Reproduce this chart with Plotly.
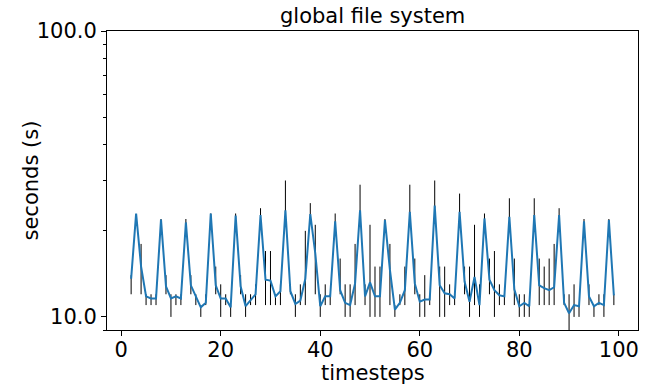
import numpy as np
import plotly.graph_objects as go

timesteps = list(range(2, 100))

mean_s = [
    13.6, 23.0, 15.0, 11.8, 11.6, 11.6, 21.9, 12.8, 11.6, 11.8,   # 2-11
    11.6, 21.4, 12.9, 11.8, 10.8, 11.2, 23.0, 12.9, 11.6, 11.6,   # 12-21
    10.8, 22.6, 12.8, 10.9, 11.4, 12.0, 22.7, 13.5, 13.4, 11.8,   # 22-31
    12.3, 23.6, 12.3, 11.1, 11.4, 13.6, 22.9, 16.7, 10.9, 11.8,   # 32-41
    11.8, 21.6, 12.4, 11.2, 11.0, 13.1, 23.6, 11.8, 13.2, 11.8,   # 42-51
    11.8, 21.8, 14.6, 10.6, 11.2, 12.4, 23.3, 13.1, 11.3, 11.5,   # 52-61
    11.5, 24.5, 12.9, 12.1, 12.0, 11.6, 23.3, 13.3, 11.3, 13.8,   # 62-71
    11.0, 22.1, 13.5, 12.4, 11.9, 11.8, 22.4, 12.5, 10.9, 11.2,   # 72-81
    10.9, 22.7, 12.9, 12.6, 12.4, 12.7, 22.7, 11.2, 10.3, 11.0,   # 82-91
    10.9, 21.6, 11.8, 10.9, 11.2, 11.0, 21.8, 11.9,               # 92-99
]

min_s = [
    12, 23, 12, 11, 11, 11, 21, 12, 10, 11,
    11, 21, 12, 11, 10, 11, 22, 12, 10, 11,
    10, 22, 12, 10, 11, 11, 22, 11, 11, 11,
    11, 23, 12, 10, 11, 11, 22, 12, 10, 11,
    11, 21, 12, 10, 10, 11, 23, 11, 10, 10,
    10, 21, 11, 10, 11, 11, 23, 12, 10, 10,
    11, 24, 10, 10, 11, 11, 23, 12, 10, 11,
    10, 22, 12, 10, 11, 11, 22, 11, 10, 10,
    10, 22, 11, 11, 11, 11, 22, 11, 9, 10,
    10, 21, 11, 10, 11, 10, 21, 11,
]

max_s = [
    14, 23, 18, 12, 12, 12, 22, 14, 12, 12,
    12, 22, 14, 12, 11, 12, 23, 15, 13, 12,
    11, 23, 14, 12, 12, 13, 24, 17, 17, 12,
    13, 30, 13, 12, 13, 20, 25, 21, 12, 13,
    12, 23, 16, 13, 13, 18, 29, 13, 21, 15,
    15, 22, 18, 11, 12, 15, 29, 16, 12, 14,
    12, 30, 15, 15, 13, 12, 27, 15, 15, 21,
    13, 23, 16, 17, 13, 12, 26, 16, 12, 12,
    11, 26, 16, 15, 16, 18, 24, 12, 12, 13,
    11, 22, 13, 11, 12, 12, 22, 12,
]

mean_a = np.array(mean_s)
err_plus = np.clip(np.array(max_s) - mean_a, 0, None)
err_minus = np.clip(mean_a - np.array(min_s), 0, None)

FONT = "DejaVu Sans"
FS = 21

fig = go.Figure()
fig.add_trace(go.Scatter(
    x=timesteps, y=mean_s, mode="lines",
    line=dict(color="#1f77b4", width=2),
    error_y=dict(type="data", symmetric=False, array=err_plus, arrayminus=err_minus,
                 color="black", thickness=1, width=0),
    showlegend=False,
))

fig.update_layout(
    width=650, height=386,
    margin=dict(l=107, r=12, t=31, b=56, autoexpand=False),
    paper_bgcolor="white", plot_bgcolor="white",
    font=dict(family=FONT, size=FS, color="black"),
    xaxis=dict(
        range=[-2.85, 103.85], tickvals=[0, 20, 40, 60, 80, 100],
        ticks="outside", ticklen=5, tickwidth=1, tickcolor="black",
        ticklabelstandoff=-4,
        showline=True, linecolor="black", linewidth=1, mirror=True,
        showgrid=False, zeroline=False, automargin=False,
        tickfont=dict(family=FONT, size=FS),
    ),
    yaxis=dict(
        type="log", range=[np.log10(9), 2],
        tickvals=[10, 100], ticktext=["10.0", "100.0"],
        ticks="outside", ticklen=5, tickwidth=1, tickcolor="black",
        minor=dict(tickvals=[9, 20, 30, 40, 50, 60, 70, 80, 90], ticks="outside",
                   ticklen=3, tickwidth=1, tickcolor="black", showgrid=False),
        showline=True, linecolor="black", linewidth=1, mirror=True,
        showgrid=False, zeroline=False, automargin=False,
        tickfont=dict(family=FONT, size=FS),
    ),
    annotations=[
        dict(text="global file system", xref="paper", yref="paper", x=0.5, y=1,
             xanchor="center", yanchor="bottom", yshift=1, showarrow=False,
             font=dict(family=FONT, size=FS, color="black")),
        dict(text="timesteps", xref="paper", yref="paper", x=0.5, y=0,
             xanchor="center", yanchor="middle", yshift=-43, showarrow=False,
             font=dict(family=FONT, size=FS, color="black")),
        dict(text="seconds (s)", xref="paper", yref="paper", x=0, y=0.5,
             xanchor="center", yanchor="middle", xshift=-77, textangle=-90, showarrow=False,
             font=dict(family=FONT, size=FS, color="black")),
    ],
)

fig.write_html("out.html", config={"displayModeBar": False},
               post_script="document.body.style.margin='0px';document.body.style.padding='0px';")
